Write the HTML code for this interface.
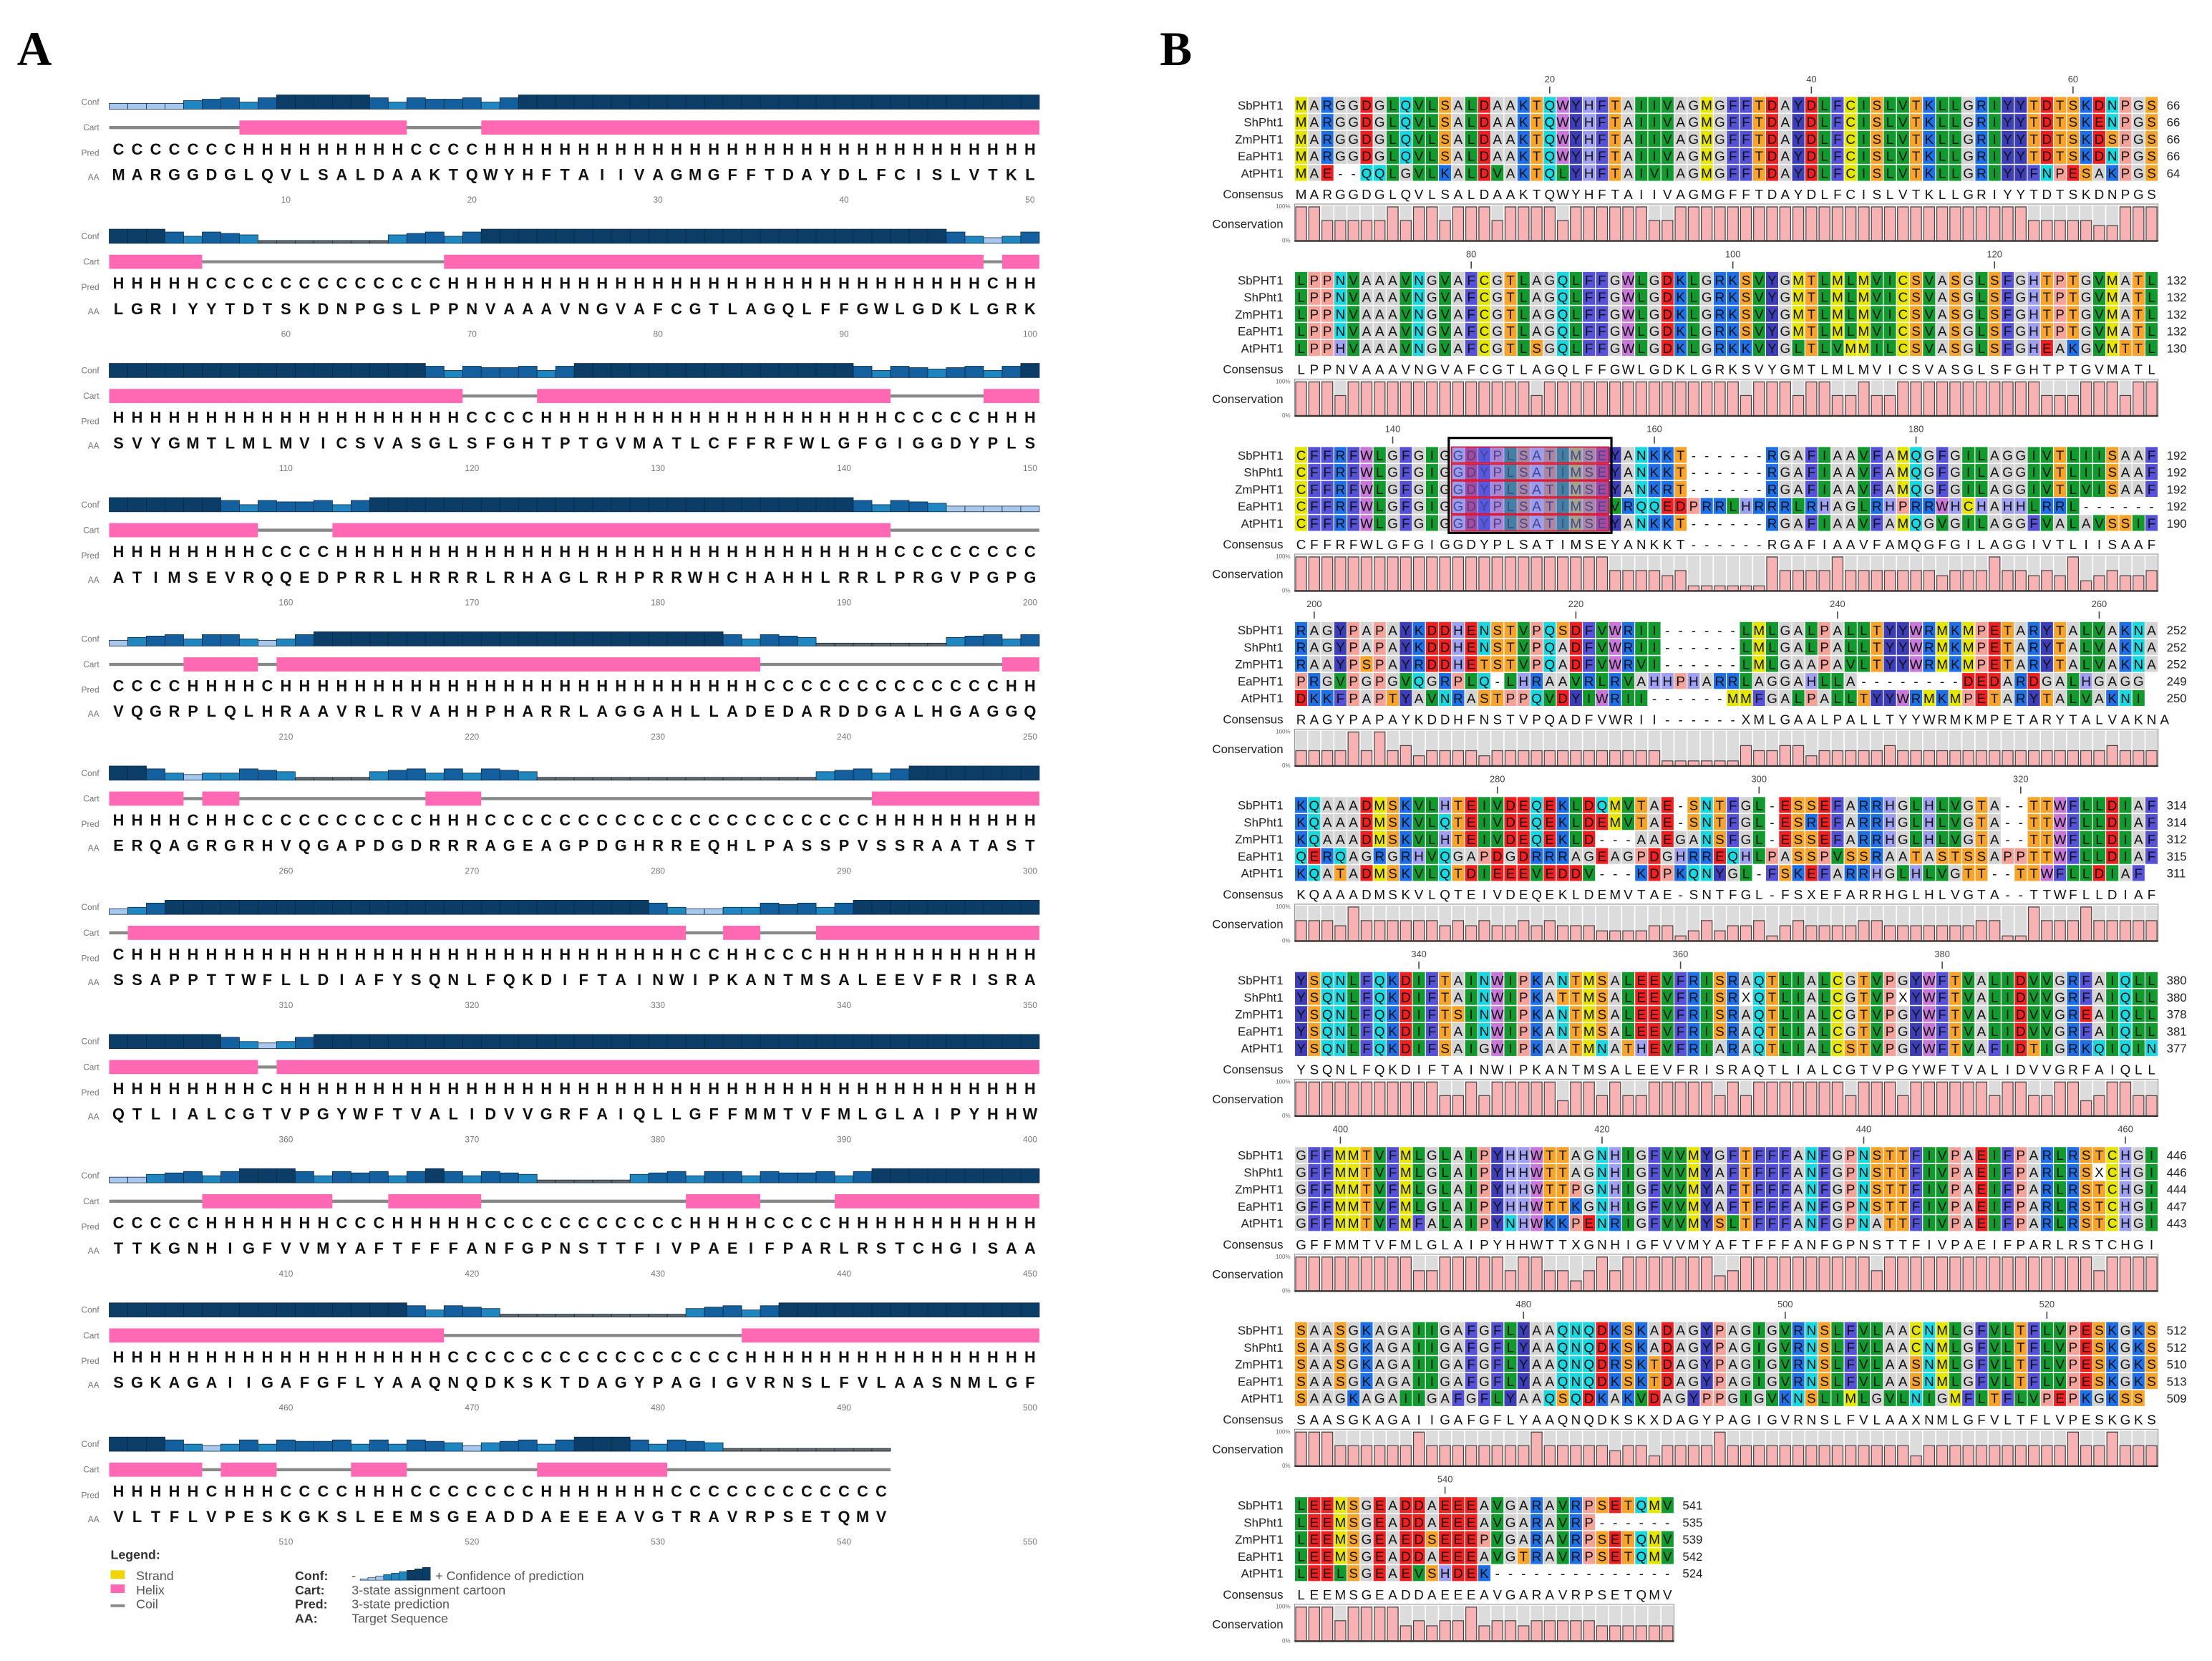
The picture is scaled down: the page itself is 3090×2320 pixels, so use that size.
<!DOCTYPE html>
<html><head><meta charset="utf-8"><style>
html,body{margin:0;padding:0;background:#fff}
svg{display:block}
text{font-family:"Liberation Sans",sans-serif}
.l{font-size:6px;fill:#777;text-anchor:end}
.n{font-size:6px;fill:#777;text-anchor:middle}
.pr,.aa{font-size:11px;font-weight:bold;fill:#111;text-anchor:middle}
.nm{font-size:8.5px;fill:#222;text-anchor:end}
.sq,.cs{font-size:9.5px;fill:#111;text-anchor:middle}
.rt{font-size:8.5px;fill:#222}
.rn{font-size:6.5px;fill:#444;text-anchor:middle}
.pc{font-size:4px;fill:#666;text-anchor:end}
.big{font-family:"Liberation Serif",serif;font-size:34px;font-weight:bold}
.lg{font-size:9px;fill:#555}
.lgb{font-size:9px;fill:#333;font-weight:bold}
</style></head><body>
<svg id="s" xmlns="http://www.w3.org/2000/svg" width="3090" height="2320" viewBox="0 0 1560 1172" preserveAspectRatio="none">
<g id="bg"></g>
<text class="big" x="12" y="46">A</text>
<text class="big" x="818" y="46">B</text>

<g class="ra"><text class="l">Conf</text><text class="l">Cart</text><text class="l">Pred</text><text class="l">AA</text>
<text class="pr">CCCCCCCHHHHHHHHHCCCCHHHHHHHHHHHHHHHHHHHHHHHHHHHHHH</text>
<text class="aa">MARGGDGLQVLSALDAAKTQWYHFTAIIVAGMGFFTDAYDLFCISLVTKL</text>
<text class="n">10</text><text class="n">20</text><text class="n">30</text><text class="n">40</text><text class="n">50</text></g>

<g class="ra"><text class="l">Conf</text><text class="l">Cart</text><text class="l">Pred</text><text class="l">AA</text>
<text class="pr">HHHHHCCCCCCCCCCCCCHHHHHHHHHHHHHHHHHHHHHHHHHHHHHCHH</text>
<text class="aa">LGRIYYTDTSKDNPGSLPPNVAAAVNGVAFCGTLAGQLFFGWLGDKLGRK</text>
<text class="n">60</text><text class="n">70</text><text class="n">80</text><text class="n">90</text><text class="n">100</text></g>

<g class="ra"><text class="l">Conf</text><text class="l">Cart</text><text class="l">Pred</text><text class="l">AA</text>
<text class="pr">HHHHHHHHHHHHHHHHHHHCCCCHHHHHHHHHHHHHHHHHHHCCCCCHHH</text>
<text class="aa">SVYGMTLMLMVICSVASGLSFGHTPTGVMATLCFFRFWLGFGIGGDYPLS</text>
<text class="n">110</text><text class="n">120</text><text class="n">130</text><text class="n">140</text><text class="n">150</text></g>

<g class="ra"><text class="l">Conf</text><text class="l">Cart</text><text class="l">Pred</text><text class="l">AA</text>
<text class="pr">HHHHHHHHCCCCHHHHHHHHHHHHHHHHHHHHHHHHHHHHHHCCCCCCCC</text>
<text class="aa">ATIMSEVRQQEDPRRLHRRRLRHAGLRHPRRWHCHAHHLRRLPRGVPGPG</text>
<text class="n">160</text><text class="n">170</text><text class="n">180</text><text class="n">190</text><text class="n">200</text></g>

<g class="ra"><text class="l">Conf</text><text class="l">Cart</text><text class="l">Pred</text><text class="l">AA</text>
<text class="pr">CCCCHHHHCHHHHHHHHHHHHHHHHHHHHHHHHHHCCCCCCCCCCCCCHH</text>
<text class="aa">VQGRPLQLHRAAVRLRVAHHPHARRLAGGAHLLADEDARDDGALHGAGGQ</text>
<text class="n">210</text><text class="n">220</text><text class="n">230</text><text class="n">240</text><text class="n">250</text></g>

<g class="ra"><text class="l">Conf</text><text class="l">Cart</text><text class="l">Pred</text><text class="l">AA</text>
<text class="pr">HHHHCHHCCCCCCCCCCHHHCCCCCCCCCCCCCCCCCCCCCHHHHHHHHH</text>
<text class="aa">ERQAGRGRHVQGAPDGDRRRAGEAGPDGHRREQHLPASSPVSSRAATAST</text>
<text class="n">260</text><text class="n">270</text><text class="n">280</text><text class="n">290</text><text class="n">300</text></g>

<g class="ra"><text class="l">Conf</text><text class="l">Cart</text><text class="l">Pred</text><text class="l">AA</text>
<text class="pr">CHHHHHHHHHHHHHHHHHHHHHHHHHHHHHHCCHHCCCHHHHHHHHHHHH</text>
<text class="aa">SSAPPTTWFLLDIAFYSQNLFQKDIFTAINWIPKANTMSALEEVFRISRA</text>
<text class="n">310</text><text class="n">320</text><text class="n">330</text><text class="n">340</text><text class="n">350</text></g>

<g class="ra"><text class="l">Conf</text><text class="l">Cart</text><text class="l">Pred</text><text class="l">AA</text>
<text class="pr">HHHHHHHHCHHHHHHHHHHHHHHHHHHHHHHHHHHHHHHHHHHHHHHHHH</text>
<text class="aa">QTLIALCGTVPGYWFTVALIDVVGRFAIQLLGFFMMTVFMLGLAIPYHHW</text>
<text class="n">360</text><text class="n">370</text><text class="n">380</text><text class="n">390</text><text class="n">400</text></g>

<g class="ra"><text class="l">Conf</text><text class="l">Cart</text><text class="l">Pred</text><text class="l">AA</text>
<text class="pr">CCCCCHHHHHHHCCCHHHHHCCCCCCCCCCCHHHHCCCCHHHHHHHHHHH</text>
<text class="aa">TTKGNHIGFVVMYAFTFFFANFGPNSTTFIVPAEIFPARLRSTCHGISAA</text>
<text class="n">410</text><text class="n">420</text><text class="n">430</text><text class="n">440</text><text class="n">450</text></g>

<g class="ra"><text class="l">Conf</text><text class="l">Cart</text><text class="l">Pred</text><text class="l">AA</text>
<text class="pr">HHHHHHHHHHHHHHHHHHCCCCCCCCCCCCCCCCHHHHHHHHHHHHHHHH</text>
<text class="aa">SGKAGAIIGAFGFLYAAQNQDKSKTDAGYPAGIGVRNSLFVLAASNMLGF</text>
<text class="n">460</text><text class="n">470</text><text class="n">480</text><text class="n">490</text><text class="n">500</text></g>

<g class="ra"><text class="l">Conf</text><text class="l">Cart</text><text class="l">Pred</text><text class="l">AA</text>
<text class="pr">HHHHHCHHHCCCCHHHCCCCCCCHHHHHHHCCCCCCCCCCCC</text>
<text class="aa">VLTFLVPESKGKSLEEMSGEADDAEEEAVGTRAVRPSETQMV</text>
<text class="n">510</text><text class="n">520</text><text class="n">530</text><text class="n">540</text><text class="n">550</text></g>

<!-- legend -->
<text class="lgb" x="78" y="1100">Legend:</text>
<rect x="78" y="1108" width="10" height="6" fill="#f2d500"/>
<text class="lg" x="96" y="1115">Strand</text>
<rect x="78" y="1118" width="10" height="6" fill="#ff69b4"/>
<text class="lg" x="96" y="1125">Helix</text>
<line x1="78" y1="1133" x2="88" y2="1133" stroke="#888" stroke-width="2"/>
<text class="lg" x="96" y="1135">Coil</text>
<text class="lgb" x="208" y="1115">Conf:</text>
<text class="lg" x="248" y="1115">-</text>
<g id="cg"></g>
<text class="lg" x="307" y="1115">+ Confidence of prediction</text>
<text class="lgb" x="208" y="1125">Cart:</text>
<text class="lg" x="248" y="1125">3-state assignment cartoon</text>
<text class="lgb" x="208" y="1135">Pred:</text>
<text class="lg" x="248" y="1135">3-state prediction</text>
<text class="lgb" x="208" y="1145">AA:</text>
<text class="lg" x="248" y="1145">Target Sequence</text>

<!-- Panel B -->
<g class="rb">
<text class="nm">SbPHT1</text><text class="nm">ShPht1</text><text class="nm">ZmPHT1</text><text class="nm">EaPHT1</text><text class="nm">AtPHT1</text>
<text class="sq">MARGGDGLQVLSALDAAKTQWYHFTAIIVAGMGFFTDAYDLFCISLVTKLLGRIYYTDTSKDNPGS</text>
<text class="sq">MARGGDGLQVLSALDAAKTQWYHFTAIIVAGMGFFTDAYDLFCISLVTKLLGRIYYTDTSKENPGS</text>
<text class="sq">MARGGDGLQVLSALDAAKTQWYHFTAIIVAGMGFFTDAYDLFCISLVTKLLGRIYYTDTSKDSPGS</text>
<text class="sq">MARGGDGLQVLSALDAAKTQWYHFTAIIVAGMGFFTDAYDLFCISLVTKLLGRIYYTDTSKDNPGS</text>
<text class="sq">MAE--QQLGVLKALDVAKTQLYHFTAIVIAGMGFFTDAYDLFCISLVTKLLGRIYYFNPESAKPGS</text>
<text class="nm">Consensus</text><text class="cs">MARGGDGLQVLSALDAAKTQWYHFTAIIVAGMGFFTDAYDLFCISLVTKLLGRIYYTDTSKDNPGS</text>
<text class="nm">Conservation</text><text class="pc">100%</text><text class="pc">0%</text>
<text class="rt">66</text><text class="rt">66</text><text class="rt">66</text><text class="rt">66</text><text class="rt">64</text>
<text class="rn">20</text><text class="rn">40</text><text class="rn">60</text>
</g>

<g class="rb">
<text class="nm">SbPHT1</text><text class="nm">ShPht1</text><text class="nm">ZmPHT1</text><text class="nm">EaPHT1</text><text class="nm">AtPHT1</text>
<text class="sq">LPPNVAAAVNGVAFCGTLAGQLFFGWLGDKLGRKSVYGMTLMLMVICSVASGLSFGHTPTGVMATL</text>
<text class="sq">LPPNVAAAVNGVAFCGTLAGQLFFGWLGDKLGRKSVYGMTLMLMVICSVASGLSFGHTPTGVMATL</text>
<text class="sq">LPPNVAAAVNGVAFCGTLAGQLFFGWLGDKLGRKSVYGMTLMLMVICSVASGLSFGHTPTGVMATL</text>
<text class="sq">LPPNVAAAVNGVAFCGTLAGQLFFGWLGDKLGRKSVYGMTLMLMVICSVASGLSFGHTPTGVMATL</text>
<text class="sq">LPPHVAAAVNGVAFCGTLSGQLFFGWLGDKLGRKKVYGLTLVMMILCSVASGLSFGHEAKGVMTTL</text>
<text class="nm">Consensus</text><text class="cs">LPPNVAAAVNGVAFCGTLAGQLFFGWLGDKLGRKSVYGMTLMLMVICSVASGLSFGHTPTGVMATL</text>
<text class="nm">Conservation</text><text class="pc">100%</text><text class="pc">0%</text>
<text class="rt">132</text><text class="rt">132</text><text class="rt">132</text><text class="rt">132</text><text class="rt">130</text>
<text class="rn">80</text><text class="rn">100</text><text class="rn">120</text>
</g>

<g class="rb">
<text class="nm">SbPHT1</text><text class="nm">ShPht1</text><text class="nm">ZmPHT1</text><text class="nm">EaPHT1</text><text class="nm">AtPHT1</text>
<text class="sq">CFFRFWLGFGIGGDYPLSATIMSEYANKKT------RGAFIAAVFAMQGFGILAGGIVTLIISAAF</text>
<text class="sq">CFFRFWLGFGIGGDYPLSATIMSEYANKKT------RGAFIAAVFAMQGFGILAGGIVTLIISAAF</text>
<text class="sq">CFFRFWLGFGIGGDYPLSATIMSEYANKRT------RGAFIAAVFAMQGFGILAGGIVTLVISAAF</text>
<text class="sq">CFFRFWLGFGIGGDYPLSATIMSEVRQQEDPRRLHRRRLRHAGLRHPRRWHCHAHHLRRL------</text>
<text class="sq">CFFRFWLGFGIGGDYPLSATIMSEYANKKT------RGAFIAAVFAMQGVGILAGGFVALAVSSIF</text>
<text class="nm">Consensus</text><text class="cs">CFFRFWLGFGIGGDYPLSATIMSEYANKKT------RGAFIAAVFAMQGFGILAGGIVTLIISAAF</text>
<text class="nm">Conservation</text><text class="pc">100%</text><text class="pc">0%</text>
<text class="rt">192</text><text class="rt">192</text><text class="rt">192</text><text class="rt">192</text><text class="rt">190</text>
<text class="rn">140</text><text class="rn">160</text><text class="rn">180</text>
</g>

<g class="rb">
<text class="nm">SbPHT1</text><text class="nm">ShPht1</text><text class="nm">ZmPHT1</text><text class="nm">EaPHT1</text><text class="nm">AtPHT1</text>
<text class="sq">RAGYPAPAYKDDHENSTVPQSDFVWRII------LMLGALPALLTYYWRMKMPETARYTALVAKNA</text>
<text class="sq">RAGYPAPAYKDDHENSTVPQADFVWRII------LMLGALPALLTYYWRMKMPETARYTALVAKNA</text>
<text class="sq">RAAYPSPAYRDDHETSTVPQADFVWRVI------LMLGAAPAVLTYYWRMKMPETARYTALVAKNA</text>
<text class="sq">PRGVPGPGVQGRPLQ-LHRAAVRLRVAHHPHARRLAGGAHLLA--------DEDARDGALHGAGG</text>
<text class="sq">DKKFPAPTYAVNRASTPPQVDYIWRII------MMFGALPALLTYYWRMKMPETARYTALVAKNI</text>
<text class="nm">Consensus</text><text class="cs">RAGYPAPAYKDDHFNSTVPQADFVWRII------XMLGAALPALLTYYWRMKMPETARYTALVAKNA</text>
<text class="nm">Conservation</text><text class="pc">100%</text><text class="pc">0%</text>
<text class="rt">252</text><text class="rt">252</text><text class="rt">252</text><text class="rt">249</text><text class="rt">250</text>
<text class="rn">200</text><text class="rn">220</text><text class="rn">240</text><text class="rn">260</text>
</g>

<g class="rb">
<text class="nm">SbPHT1</text><text class="nm">ShPht1</text><text class="nm">ZmPHT1</text><text class="nm">EaPHT1</text><text class="nm">AtPHT1</text>
<text class="sq">KQAAADMSKVLHTEIVDEQEKLDQMVTAE-SNTFGL-ESSEFARRHGLHLVGTA--TTWFLLDIAF</text>
<text class="sq">KQAAADMSKVLQTEIVDEQEKLDEMVTAE-SNTFGL-ESREFARRHGLHLVGTA--TTWFLLDIAF</text>
<text class="sq">KQAAADMSKVLHTEIVDEQEKLD---AAEGANSFGL-ESSEFARRHGLHLVGTA--TTWFLLDIAF</text>
<text class="sq">QERQAGRGRHVQGAPDGDRRRAGEAGPDGHRREQHLPASSPVSSRAATASTSSAPPTTWFLLDIAF</text>
<text class="sq">KQATADMSKVLQTDIEEEVEDDV---KDPKQNYGL-FSKEFARRHGLHLVGTT--TTWFLLDIAF</text>
<text class="nm">Consensus</text><text class="cs">KQAAADMSKVLQTEIVDEQEKLDEMVTAE-SNTFGL-FSXEFARRHGLHLVGTA--TTWFLLDIAF</text>
<text class="nm">Conservation</text><text class="pc">100%</text><text class="pc">0%</text>
<text class="rt">314</text><text class="rt">314</text><text class="rt">312</text><text class="rt">315</text><text class="rt">311</text>
<text class="rn">280</text><text class="rn">300</text><text class="rn">320</text>
</g>

<g class="rb">
<text class="nm">SbPHT1</text><text class="nm">ShPht1</text><text class="nm">ZmPHT1</text><text class="nm">EaPHT1</text><text class="nm">AtPHT1</text>
<text class="sq">YSQNLFQKDIFTAINWIPKANTMSALEEVFRISRAQTLIALCGTVPGYWFTVALIDVVGRFAIQLL</text>
<text class="sq">YSQNLFQKDIFTAINWIPKATTMSALEEVFRISRXQTLIALCGTVPXYWFTVALIDVVGRFAIQLL</text>
<text class="sq">YSQNLFQKDIFTSINWIPKANTMSALEEVFRISRAQTLIALCGTVPGYWFTVALIDVVGREAIQLL</text>
<text class="sq">YSQNLFQKDIFTAINWIPKANTMSALEEVFRISRAQTLIALCGTVPGYWFTVALIDVVGRFAIQLL</text>
<text class="sq">YSQNLFQKDIFSAIGWIPKAATMNATHEVFRIARAQTLIALCSTVPGYWFTVAFIDTIGRKQIQIN</text>
<text class="nm">Consensus</text><text class="cs">YSQNLFQKDIFTAINWIPKANTMSALEEVFRISRAQTLIALCGTVPGYWFTVALIDVVGRFAIQLL</text>
<text class="nm">Conservation</text><text class="pc">100%</text><text class="pc">0%</text>
<text class="rt">380</text><text class="rt">380</text><text class="rt">378</text><text class="rt">381</text><text class="rt">377</text>
<text class="rn">340</text><text class="rn">360</text><text class="rn">380</text>
</g>

<g class="rb">
<text class="nm">SbPHT1</text><text class="nm">ShPht1</text><text class="nm">ZmPHT1</text><text class="nm">EaPHT1</text><text class="nm">AtPHT1</text>
<text class="sq">GFFMMTVFMLGLAIPYHHWTTAGNHIGFVVMYGFTFFFANFGPNSTTFIVPAEIFPARLRSTCHGI</text>
<text class="sq">GFFMMTVFMLGLAIPYHHWTTAGNHIGFVVMYAFTFFFANFGPNSTTFIVPAEIFPARLRSXCHGI</text>
<text class="sq">GFFMMTVFMLGLAIPYHHWTTPGNHIGFVVMYAFTFFFANFGPNSTTFIVPAEIFPARLRSTCHGI</text>
<text class="sq">GFFMMTVFMLGLAIPYHHWTTKGNHIGFVVMYAFTFFFANFGPNSTTFIVPAEIFPARLRSTCHGI</text>
<text class="sq">GFFMMTVFMFALAIPYNHWKKPENRIGFVVMYSLTFFFANFGPNATTFIVPAEIFPARLRSTCHGI</text>
<text class="nm">Consensus</text><text class="cs">GFFMMTVFMLGLAIPYHHWTTXGNHIGFVVMYAFTFFFANFGPNSTTFIVPAEIFPARLRSTCHGI</text>
<text class="nm">Conservation</text><text class="pc">100%</text><text class="pc">0%</text>
<text class="rt">446</text><text class="rt">446</text><text class="rt">444</text><text class="rt">447</text><text class="rt">443</text>
<text class="rn">400</text><text class="rn">420</text><text class="rn">440</text><text class="rn">460</text>
</g>

<g class="rb">
<text class="nm">SbPHT1</text><text class="nm">ShPht1</text><text class="nm">ZmPHT1</text><text class="nm">EaPHT1</text><text class="nm">AtPHT1</text>
<text class="sq">SAASGKAGAIIGAFGFLYAAQNQDKSKADAGYPAGIGVRNSLFVLAACNMLGFVLTFLVPESKGKS</text>
<text class="sq">SAASGKAGAIIGAFGFLYAAQNQDKSKADAGYPAGIGVRNSLFVLAACNMLGFVLTFLVPESKGKS</text>
<text class="sq">SAASGKAGAIIGAFGFLYAAQNQDRSKTDAGYPAGIGVRNSLFVLAASNMLGFVLTFLVPESKGKS</text>
<text class="sq">SAASGKAGAIIGAFGFLYAAQNQDKSKTDAGYPAGIGVRNSLFVLAASNMLGFVLTFLVPESKGKS</text>
<text class="sq">SAAGKAGAIIGAFGFLYAAQSQDKAKVDAGYPPGIGVKNSLIMLGVLNIGMFLTFLVPEPKGKSS</text>
<text class="nm">Consensus</text><text class="cs">SAASGKAGAIIGAFGFLYAAQNQDKSKXDAGYPAGIGVRNSLFVLAAXNMLGFVLTFLVPESKGKS</text>
<text class="nm">Conservation</text><text class="pc">100%</text><text class="pc">0%</text>
<text class="rt">512</text><text class="rt">512</text><text class="rt">510</text><text class="rt">513</text><text class="rt">509</text>
<text class="rn">480</text><text class="rn">500</text><text class="rn">520</text>
</g>

<g class="rb">
<text class="nm">SbPHT1</text><text class="nm">ShPht1</text><text class="nm">ZmPHT1</text><text class="nm">EaPHT1</text><text class="nm">AtPHT1</text>
<text class="sq">LEEMSGEADDAEEEAVGARAVRPSETQMV</text>
<text class="sq">LEEMSGEADDAEEEAVGARAVRP------</text>
<text class="sq">LEEMSGEAEDSEEEPVGARAVRPSETQMV</text>
<text class="sq">LEEMSGEADDAEEEAVGTRAVRPSETQMV</text>
<text class="sq">LEELSGEAEVSHDEK--------------</text>
<text class="nm">Consensus</text><text class="cs">LEEMSGEADDAEEEAVGARAVRPSETQMV</text>
<text class="nm">Conservation</text><text class="pc">100%</text><text class="pc">0%</text>
<text class="rt">541</text><text class="rt">535</text><text class="rt">539</text><text class="rt">542</text><text class="rt">524</text>
<text class="rn">540</text>
</g>
<g id="fg"></g>
</svg>
<script>
(function(){
var NS='http://www.w3.org/2000/svg';
var svg=document.getElementById('s'),bg=document.getElementById('bg'),fg=document.getElementById('fg');
function el(t,a,p){var e=document.createElementNS(NS,t);for(var k in a)e.setAttribute(k,a[k]);p.appendChild(e);return e;}
function spread(t,x0,p,y){var s=t.textContent;t.textContent='';for(var i=0;i<s.length;i++){var ts=el('tspan',{x:(x0+(i+0.5)*p).toFixed(2),y:y},t);ts.textContent=s[i];}return s;}
var P=13.12,X0=77;
var ras=document.querySelectorAll('.ra');
for(var k=0;k<ras.length;k++){
 var g=ras[k],y0=67+k*94.7;
 var ls=g.querySelectorAll('.l'),ys=[y0+7,y0+25,y0+43,y0+60];
 for(var i=0;i<4;i++){ls[i].setAttribute('x',70);ls[i].setAttribute('y',ys[i]);}
 var ps=spread(g.querySelector('.pr'),X0,P,y0+42);
 spread(g.querySelector('.aa'),X0,P,y0+60);
 var ns=g.querySelectorAll('.n');
 for(i=0;i<ns.length;i++){ns[i].setAttribute('x',X0+(10*(i+1)-0.5)*P);ns[i].setAttribute('y',y0+76);}
 var n=ps.length;
 el('line',{x1:X0,x2:X0+n*P,y1:y0+23,y2:y0+23,stroke:'#888','stroke-width':2.2},bg);
 i=0;while(i<n){if(ps[i]=='H'){var j=i;while(j<n&&ps[j]=='H')j++;el('rect',{x:X0+i*P,y:y0+18,width:(j-i)*P,height:10,fill:'#ff69b4'},bg);i=j;}else i++;}
 i=0;while(i<n){var j=i;while(j<n&&ps[j]==ps[i])j++;
  for(var q=i;q<j;q++){var dl=(i==0)?99:q-i,dr=(j==n)?99:j-1-q,d=Math.min(dl,dr);var h,c;
   if(ps[q]=='H'){h=d>=2?10:(d==1?8:5);}else{h=d>=3?(j-i>8?2:4):(d==2?6:(d==1?7:8));}
   if(ps[q]=='C'&&(j-i)<=2)h=4;
   c=h>=9?'#0b3d66':h>=7?'#14609e':h>=5?'#1f86c0':h>=3?'#a9c7ec':'#666';
   var hh=h>=2?h:0.8;
   el('rect',{x:X0+q*P,y:y0+10-hh,width:P,height:hh,fill:c,stroke:'#0a2a44','stroke-width':0.4},bg);}
  i=j;}
}
var cg=document.getElementById('cg');
for(var i=0;i<9;i++){var h=1+i;el('rect',{x:254+i*5.5,y:1115-h,width:5.5,height:h,fill:i<3?'#a9c7ec':i<6?'#1f86c0':'#0b3d66',stroke:'#0a2a44','stroke-width':0.3},cg);}
var col={A:'#d4d4d4',G:'#d4d4d4',M:'#e6e600',C:'#e6e600',R:'#1f6fe6',K:'#1f6fe6',D:'#f02020',E:'#f02020',L:'#139a2e',I:'#139a2e',V:'#139a2e',Q:'#1ad8e0',N:'#1ad8e0',S:'#f8a42a',T:'#f8a42a',W:'#c878d8',Y:'#3d3db8',F:'#5552d8',H:'#a0a0f0',P:'#f5a39a'};
var BP=9.227,BX=913;
var rbs=document.querySelectorAll('.rb');
for(var b=0;b<rbs.length;b++){
 var g=rbs[b],Y=74+b*123.5;
 var nm=g.querySelectorAll('.nm'),sq=g.querySelectorAll('.sq'),rt=g.querySelectorAll('.rt');
 var seqs=[];
 for(var r=0;r<5;r++){var s0=sq[r].textContent;seqs.push(s0);}
 var L=seqs[0].length;
 for(var r=0;r<5;r++){
  var yy=Y+r*12;
  nm[r].setAttribute('x',905);nm[r].setAttribute('y',yy+3.2);
  var s=seqs[r];
  for(var j=0;j<s.length;j++){var c=col[s[j]];if(c)el('rect',{x:BX+j*BP+0.3,y:yy-5.6,width:BP-0.6,height:11.2,fill:c},bg);}
  spread(sq[r],BX,BP,yy+3.5);
  rt[r].setAttribute('x',BX+L*BP+6);rt[r].setAttribute('y',yy+3.2);
 }
 nm[5].setAttribute('x',905);nm[5].setAttribute('y',Y+66);
 spread(g.querySelector('.cs'),BX,BP,Y+66.5);
 nm[6].setAttribute('x',905);nm[6].setAttribute('y',Y+87);
 var pc=g.querySelectorAll('.pc');pc[0].setAttribute('x',910);pc[0].setAttribute('y',Y+73);pc[1].setAttribute('x',910);pc[1].setAttribute('y',Y+97);
 var top=Y+70,bot=Y+96;
 el('rect',{x:BX,y:top,width:L*BP,height:bot-top,fill:'#ffffff',stroke:'#999','stroke-width':0.6},bg);
 for(var j=0;j<L;j++){
  var cnt={},mx=0;for(var r=0;r<5;r++){var ch=seqs[r][j]||'-';if(ch=='-')continue;cnt[ch]=(cnt[ch]||0)+1;if(cnt[ch]>mx)mx=cnt[ch];}
  var f=mx/5;var x=BX+j*BP;
  el('rect',{x:x+0.4,y:top+1,width:BP-0.8,height:bot-top-1,fill:'#dcdcdc'},bg);
  if(f>0){var hh=(bot-top-2)*(f>=1?1:f*0.75);
   el('rect',{x:x+0.8,y:bot-hh,width:BP-1.6,height:hh,fill:'#f7b3b3',stroke:'#444','stroke-width':0.6},bg);}
 }
 el('line',{x1:BX,x2:BX+L*BP,y1:bot,y2:bot,stroke:'#333','stroke-width':1.2},bg);
 var rn=g.querySelectorAll('.rn');
 for(var i=0;i<rn.length;i++){var m=parseInt(rn[i].textContent,10);var jj=m-66*b-1;var x=BX+(jj+0.5)*BP;
  rn[i].setAttribute('x',x);rn[i].setAttribute('y',Y-16);
  el('line',{x1:x,x2:x,y1:Y-13,y2:Y-8,stroke:'#444','stroke-width':0.8},bg);}
 if(b==2){
  var x1=BX+12*BP,w=12*BP;
  for(var r=0;r<5;r++){el('rect',{x:x1,y:Y+r*12-5.6,width:w,height:11.2,fill:'rgba(110,110,255,0.55)',stroke:'#e0102a','stroke-width':0.8},fg);}
  el('rect',{x:x1-2,y:Y-12,width:w+4,height:67,fill:'none',stroke:'#000','stroke-width':1.6},fg);
 }
}
})();
</script>
</body></html>
